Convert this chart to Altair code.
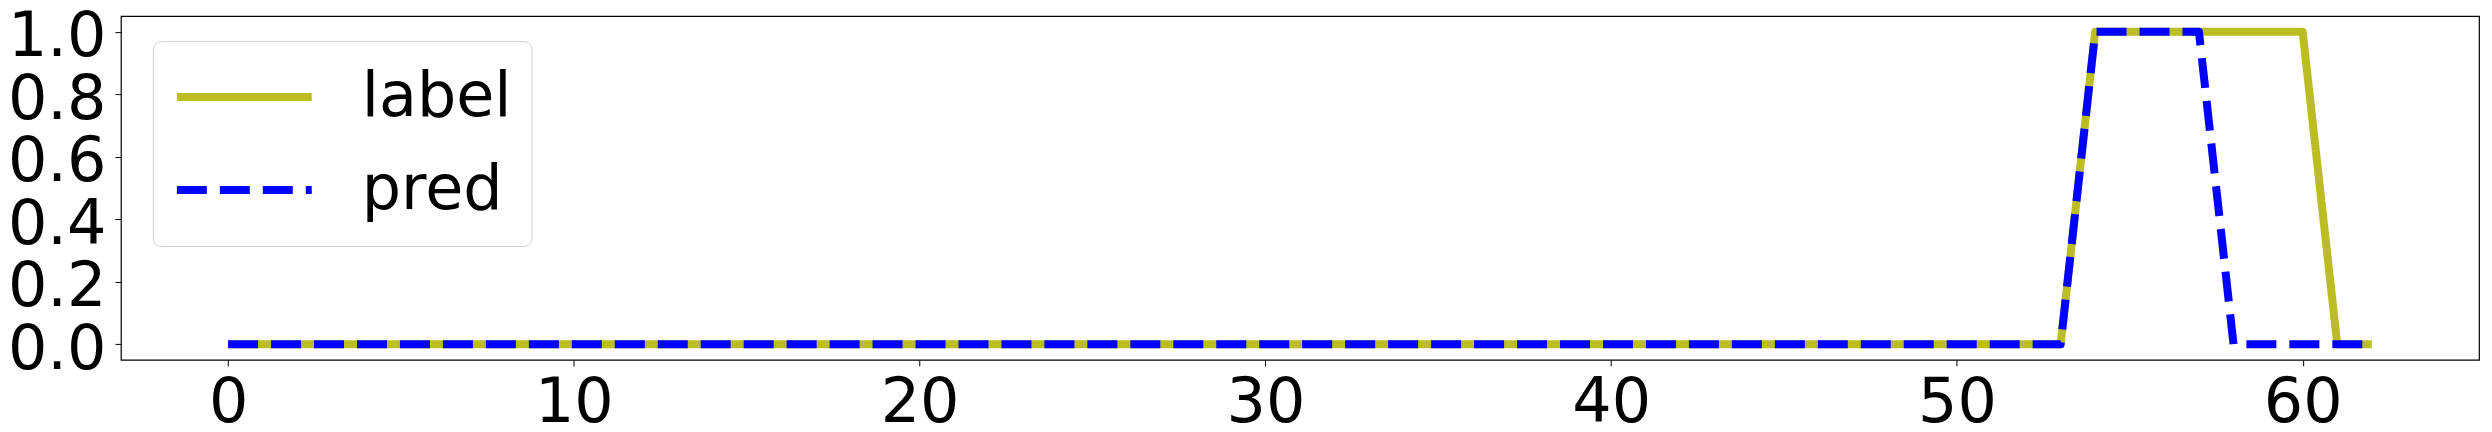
import altair as alt
import pandas as pd

steps = list(range(63))
label_vals = [0] * 54 + [1] * 7 + [0] * 2
pred_vals = [0] * 54 + [1] * 4 + [0] * 5
series_names = ["label", "pred"]
series_colors = ["#bcbd22", "#0000ff"]
series_dash = [[1, 0], [30, 13]]
x_ticks = [0, 10, 20, 30, 40, 50, 60]
y_ticks = [0.0, 0.2, 0.4, 0.6, 0.8, 1.0]

df = pd.concat([
    pd.DataFrame({"step": steps, "value": label_vals, "series": "label", "o": 0}),
    pd.DataFrame({"step": steps, "value": pred_vals, "series": "pred", "o": 1}),
], ignore_index=True)

FONT = "DejaVu Sans"

legend = alt.Legend(
    title=None,
    orient="none",
    legendX=32,
    legendY=25,
    symbolType="stroke",
    symbolSize=18225,
    symbolStrokeWidth=8,
    labelFontSize=62,
    labelFont=FONT,
    labelColor="black",
    labelOffset=46,
    clipHeight=72,
    rowPadding=21,
    padding=20,
    cornerRadius=8,
    strokeColor="#d0d0d0",
    fillColor="white",
)

chart = alt.Chart(df).mark_line(strokeWidth=8, strokeJoin="round").encode(
    x=alt.X("step:Q", scale=alt.Scale(domain=[-3.1, 65.1], nice=False, zero=False),
            axis=alt.Axis(values=x_ticks, title=None, grid=False, domain=False,
                          tickSize=6, tickColor="black", labelPadding=7,
                          labelFontSize=62, labelFont=FONT, labelColor="black",
                          format="d", labelFlush=False)),
    y=alt.Y("value:Q", scale=alt.Scale(domain=[-0.05, 1.05], nice=False, zero=False),
            axis=alt.Axis(values=y_ticks, title=None, grid=False, domain=False,
                          tickSize=6, tickColor="black", labelPadding=9,
                          labelFontSize=62, labelFont=FONT, labelColor="black",
                          format=".1f", labelOffset=5, labelFlush=False)),
    color=alt.Color("series:N", scale=alt.Scale(domain=series_names, range=series_colors), legend=legend),
    strokeDash=alt.StrokeDash("series:N", scale=alt.Scale(domain=series_names, range=series_dash), legend=legend),
    order=alt.Order("o:Q"),
).properties(
    width=2360,
    height=344,
    autosize=alt.AutoSizeParams(type="none"),
    padding={"left": 113, "top": 8, "right": 5, "bottom": 68},
).configure_view(
    stroke="black", strokeWidth=1.2
)

chart.save("out.html", embed_options={"renderer": "svg", "actions": False})
